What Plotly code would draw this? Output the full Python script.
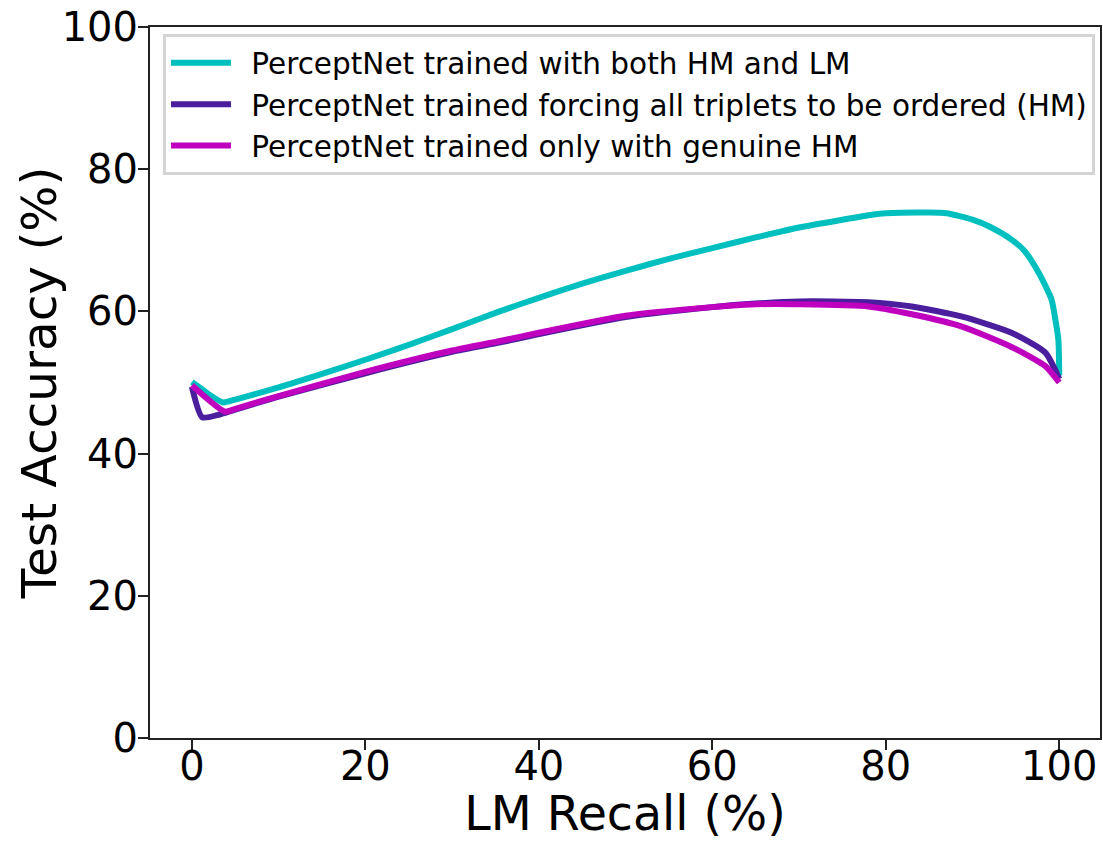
import plotly.graph_objects as go

# LM recall (%) and test accuracy (%) for each training setup
recall_both = [0, 1, 2, 3.6, 5, 10, 15, 20, 25, 30, 35, 40, 45, 50, 55, 60, 65, 70, 75,
               78.4, 80, 85, 87, 90, 92, 94.5, 96, 97.6, 99.1, 99.6, 99.9, 100]
acc_both = [50.1, 49.2, 48.3, 47.2, 47.6, 49.3, 51.2, 53.2, 55.3, 57.5, 59.8, 61.9, 63.9,
            65.7, 67.4, 68.9, 70.4, 71.8, 72.9, 73.6, 73.8, 73.9, 73.8, 72.9, 71.9, 70.1,
            68.5, 65.5, 61.7, 58.5, 56.0, 51.0]

recall_forced = [0, 1.2, 3.2, 5, 10, 20, 30, 35.4, 40, 50, 60, 65, 70, 78, 83, 88.7, 94.5,
                 98.4, 100]
acc_forced = [49.4, 45.1, 45.5, 46.2, 48.0, 51.3, 54.3, 55.6, 56.8, 59.2, 60.6, 61.1, 61.4,
              61.3, 60.7, 59.3, 57.0, 54.2, 50.5]

recall_genuine = [0, 3.8, 5, 10, 20, 30, 35.4, 40, 50, 60, 65, 70, 78, 83, 88.7, 94.5,
                  98.4, 100]
acc_genuine = [49.6, 45.9, 46.3, 48.1, 51.5, 54.5, 55.8, 57.0, 59.4, 60.6, 61.0, 61.0, 60.7,
               59.6, 57.9, 55.0, 52.3, 50.0]

series_names = [
    "PerceptNet trained with both HM and LM",
    "PerceptNet trained forcing all triplets to be ordered (HM)",
    "PerceptNet trained only with genuine HM",
]
series_colors = ["#00BFBF", "#4B1E9E", "#BF00BF"]

x_ticks = [0, 20, 40, 60, 80, 100]
y_ticks = [0, 20, 40, 60, 80, 100]

FONT = "DejaVu Sans"
GAP = "\u00a0\u2009"  # space between the legend line sample and its label

fig = go.Figure()
for name, xs, ys, color in zip(
    series_names,
    [recall_both, recall_forced, recall_genuine],
    [acc_both, acc_forced, acc_genuine],
    series_colors,
):
    fig.add_trace(go.Scatter(
        x=xs, y=ys, mode="lines", name=GAP + name,
        line=dict(color=color, width=6, shape="spline", smoothing=0.6),
    ))

axis_common = dict(
    showline=True, linecolor="#222", linewidth=2, mirror=True,
    ticks="outside", ticklen=10, tickwidth=2, tickcolor="#222",
    showgrid=False, zeroline=False,
    tickfont=dict(family=FONT, size=40, color="black"),
)

fig.update_layout(
    width=1103, height=841,
    margin=dict(l=150, r=1, t=27, b=103),
    paper_bgcolor="white", plot_bgcolor="white",
    font=dict(family=FONT, color="black"),
    xaxis=dict(
        range=[-4.83, 104.7], tickvals=x_ticks, ticklabelstandoff=-18,
        title=dict(text="LM Recall (%)", font=dict(family=FONT, size=47.5), standoff=17),
        **axis_common,
    ),
    yaxis=dict(
        range=[0, 100], tickvals=y_ticks, ticklabelstandoff=-8,
        **axis_common,
    ),
    legend=dict(
        x=0.0137, y=0.990, xanchor="left", yanchor="top",
        bgcolor="white", bordercolor="#d4d4d4", borderwidth=3,
        font=dict(family=FONT, size=29.5, color="black"),
        itemwidth=60,
    ),
    showlegend=True,
)

# vertical axis title
fig.add_annotation(
    text="Test Accuracy (%)", textangle=-90,
    xref="paper", yref="paper", x=-0.117, y=0.5,
    xanchor="center", yanchor="middle", showarrow=False,
    font=dict(family=FONT, size=48.5, color="black"),
)

fig.write_html("out.html")
